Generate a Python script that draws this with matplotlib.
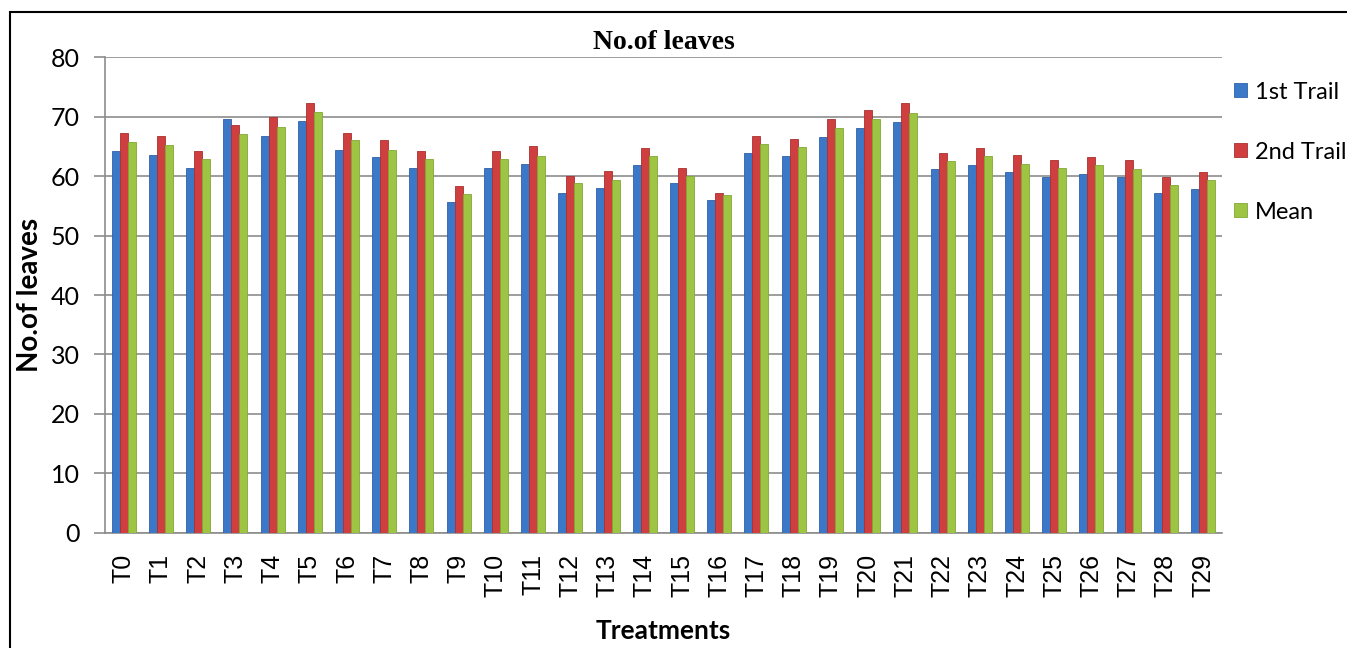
import matplotlib.pyplot as plt
import matplotlib.patches as patches
import numpy as np

treatments = ["T" + str(i) for i in range(30)]
trail1 = [64.2, 63.6, 61.3, 69.5, 66.7, 69.2, 64.4, 63.2, 61.3, 55.7,
          61.3, 62.1, 57.2, 58.0, 61.8, 58.8, 55.9, 63.9, 63.4, 66.5,
          68.0, 69.1, 61.1, 61.8, 60.6, 59.9, 60.3, 59.9, 57.2, 57.8]
trail2 = [67.3, 66.7, 64.2, 68.6, 69.9, 72.3, 67.3, 66.0, 64.2, 58.3,
          64.2, 65.0, 60.0, 60.8, 64.7, 61.3, 57.2, 66.7, 66.2, 69.5,
          71.1, 72.2, 63.9, 64.7, 63.5, 62.7, 63.2, 62.7, 59.8, 60.6]
mean = [65.8, 65.2, 62.9, 67.0, 68.3, 70.8, 66.0, 64.4, 62.9, 56.9,
        62.9, 63.4, 58.8, 59.3, 63.4, 60.0, 56.8, 65.4, 64.9, 68.0,
        69.5, 70.6, 62.6, 63.4, 62.1, 61.4, 61.8, 61.1, 58.5, 59.3]

plt.rcParams['font.family'] = ['Lato', 'DejaVu Sans']

fig = plt.figure(figsize=(13.47, 6.48), dpi=100)
ax = fig.add_axes([0.078, 0.1775, 0.829, 0.7345])

x = np.arange(len(treatments))
w = 0.215
ax.bar(x - w, trail1, w, color='#3C78C8', edgecolor='#2F62A8', linewidth=0.6, label='1st Trail', zorder=3)
ax.bar(x, trail2, w, color='#D03F3F', edgecolor='#A83030', linewidth=0.6, label='2nd Trail', zorder=3)
ax.bar(x + w, mean, w, color='#9DC443', edgecolor='#82A836', linewidth=0.6, label='Mean', zorder=3)

ax.set_xlim(-0.5, len(treatments) - 0.5)
ax.set_ylim(0, 80)
ax.set_yticks(range(0, 81, 10))
ax.grid(axis='y', color='#8c8c8c', linewidth=1.2, zorder=0)
ax.set_xticks(x)
ax.set_xticklabels(treatments, rotation=90, fontsize=18, fontfamily='Liberation Sans')
ax.tick_params(axis='x', length=0, pad=15)
ax.tick_params(axis='y', direction='out', length=8, width=1.2, color='#8c8c8c', labelsize=18, pad=10)

for s in ['top', 'right']:
    ax.spines[s].set_visible(False)
for s in ['left', 'bottom']:
    ax.spines[s].set_color('#8c8c8c')
    ax.spines[s].set_linewidth(1.2)

ax.set_title('No.of leaves', fontfamily='Liberation Serif', fontweight='bold', fontsize=20, pad=6)
ax.set_ylabel('No.of leaves', fontweight='bold', fontsize=20, labelpad=6)
ax.set_xlabel('Treatments', fontweight='bold', fontsize=19, labelpad=16)

ax.legend(loc='upper left', bbox_to_anchor=(0.998, 0.978), frameon=False, fontsize=17,
          handlelength=0.55, handleheight=0.55, handletextpad=0.35, labelspacing=1.65,
          borderaxespad=0.2)

fig.patches.append(patches.Rectangle((0.0074, -0.02), 1.1, 1.0015, transform=fig.transFigure,
                                     fill=False, edgecolor='black', linewidth=1.5))

fig.savefig('out.png', dpi=100)
